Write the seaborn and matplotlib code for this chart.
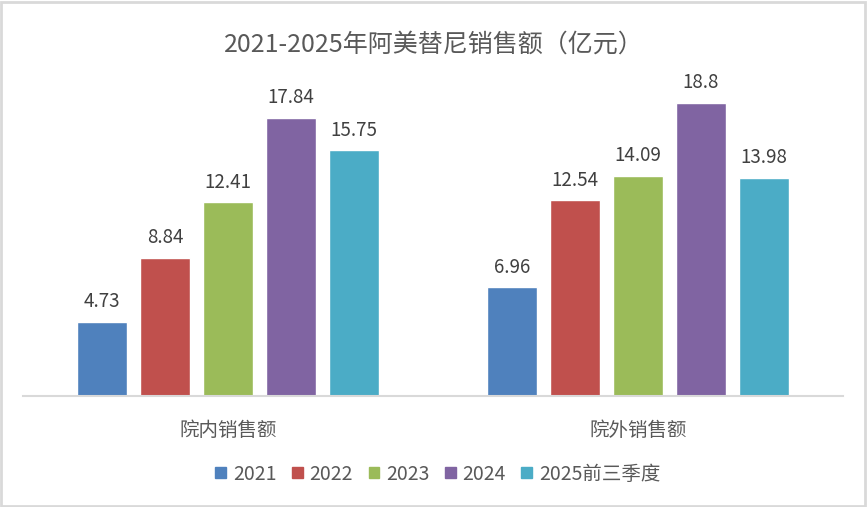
import matplotlib.pyplot as plt
import matplotlib.patches as mpatches
import pandas as pd
import seaborn as sns

categories = ['院内销售额', '院外销售额']
years = ['2021', '2022', '2023', '2024', '2025前三季度']
in_hospital = [4.73, 8.84, 12.41, 17.84, 15.75]
out_hospital = [6.96, 12.54, 14.09, 18.8, 13.98]
colors = ['#4F81BD', '#C0504D', '#9BBB59', '#8064A2', '#4BACC6']

rows = []
for i, y in enumerate(years):
    rows.append({'类别': categories[0], '年份': y, '销售额': in_hospital[i]})
    rows.append({'类别': categories[1], '年份': y, '销售额': out_hospital[i]})
df = pd.DataFrame(rows)

sns.set_style('white')
plt.rcParams['font.family'] = ['Noto Sans CJK SC', 'DejaVu Sans']

fig = plt.figure(figsize=(8.67, 5.07), dpi=100)
ax = fig.add_axes([23 / 867, 1 - 396 / 507, 820 / 867, 312 / 507])

sns.barplot(data=df, x='类别', y='销售额', hue='年份', order=categories,
            hue_order=years, palette=colors, width=0.768, gap=0.206,
            saturation=1, ax=ax, legend=False)

for c in ax.containers:
    ax.bar_label(c, fmt='%g', padding=7, fontsize=13.5, color='#404040')

ax.set_ylim(0, 20)
ax.set_xlim(-0.5, 1.5)
ax.set_xlabel('')
ax.set_ylabel('')
ax.set_yticks([])
for s in ['left', 'right', 'top']:
    ax.spines[s].set_visible(False)
ax.spines['bottom'].set_color('#D9D9D9')
ax.spines['bottom'].set_linewidth(1.5)
ax.tick_params(axis='x', length=0, pad=17, labelsize=14, labelcolor='#595959')

fig.text(0.5, 1 - 45 / 507, '2021-2025年阿美替尼销售额（亿元）', ha='center', va='center',
         fontsize=18, color='#595959')

handles = [mpatches.Patch(color=colors[i], label=years[i]) for i in range(len(years))]
fig.legend(handles=handles, loc='center', bbox_to_anchor=(0.505, 1 - 474 / 507), ncol=5,
           frameon=False, fontsize=14, labelcolor='#595959', handlelength=0.55,
           handleheight=0.55, handletextpad=0.35, columnspacing=0.8)

fig.patches.append(mpatches.Rectangle((0.001, 0.002), 0.997, 0.995, transform=fig.transFigure,
                                      fill=False, edgecolor='#D9D9D9', linewidth=2))

plt.savefig('out.png', dpi=100)
